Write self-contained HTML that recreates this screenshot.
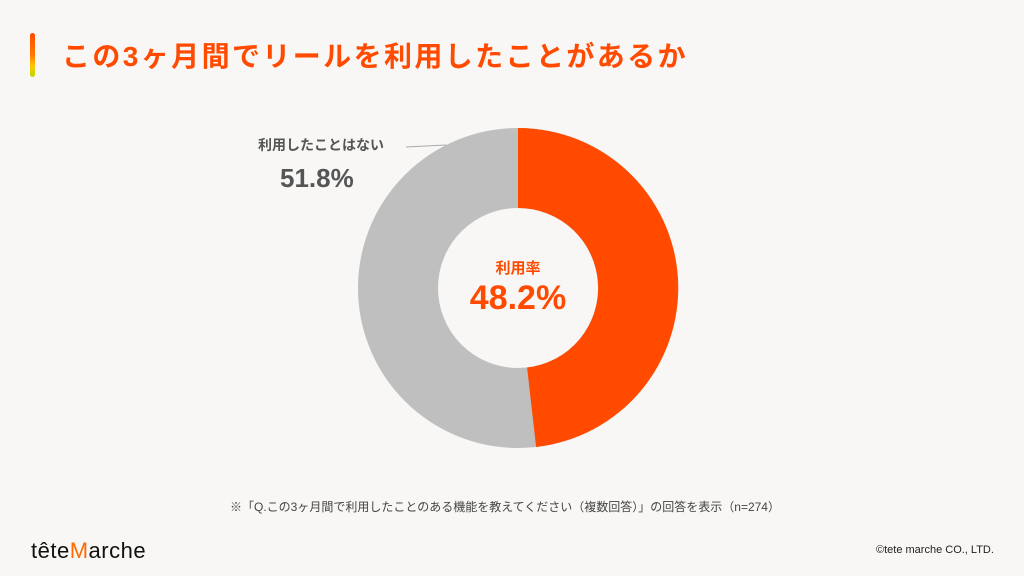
<!DOCTYPE html>
<html><head><meta charset="utf-8"><style>
body{margin:0;width:1024px;height:576px;background:#f8f7f5;overflow:hidden;font-family:"Liberation Sans","Noto Sans CJK JP",sans-serif;position:relative}
.t{position:absolute;white-space:nowrap}
</style></head><body>
<div style="position:absolute;left:30px;top:33px;width:5px;height:44px;border-radius:3px;background:linear-gradient(#ff4a00,#ff7a00 50%,#ffc800 75%,#b8d800)"></div>
<div class="t" style="left:62px;top:35px;font-size:28px;font-weight:bold;color:#ff4a00;letter-spacing:2.4px">この3ヶ月間でリールを利用したことがあるか</div>
<svg style="position:absolute;left:0;top:0" width="1024" height="576">
<circle cx="518" cy="288" r="120" fill="none" stroke="#bfbfbf" stroke-width="80"/>
<path d="M518 128 A160 160 0 0 1 536.1 447 L527.1 367.5 A80 80 0 0 0 518 208 Z" fill="#ff4a00"/>
<line x1="406" y1="147" x2="446" y2="145" stroke="#aaa" stroke-width="1"/>
</svg>
<div class="t" style="left:258px;top:135px;font-size:14px;font-weight:bold;color:#555">利用したことはない</div>
<div class="t" style="left:280px;top:163px;font-size:26px;font-weight:bold;color:#555">51.8%</div>
<div class="t" style="left:418px;top:257px;width:200px;text-align:center;font-size:15px;font-weight:bold;color:#ff4a00">利用率</div>
<div class="t" style="left:418px;top:279px;width:200px;text-align:center;font-size:34px;font-weight:bold;color:#ff4a00">48.2%</div>
<div class="t" style="left:230px;top:498px;font-size:12px;color:#444">※「Q.この3ヶ月間で利用したことのある機能を教えてください（複数回答）」の回答を表示（n=274）</div>
<div class="t" style="left:31px;top:538px;font-size:22px;color:#111;letter-spacing:0.5px">tête<span style="color:#ff6a00">M</span>arche</div>
<div class="t" style="left:876px;top:544px;font-size:11px;color:#222">©tete marche CO., LTD.</div>
</body></html>
